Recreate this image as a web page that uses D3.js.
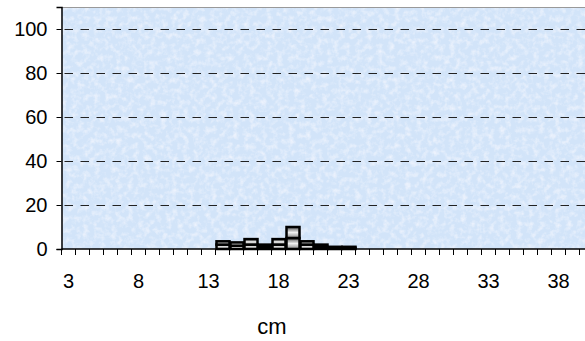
<!DOCTYPE html>
<html><head><meta charset="utf-8">
<script src="https://cdn.jsdelivr.net/npm/d3@7"></script>
<style>body{margin:0;background:#fff;}svg{display:block;font-family:"Liberation Sans",Arial,sans-serif;}</style>
</head><body>
<script>
const categories = d3.range(3, 41);
const tickLabels = [3, 8, 13, 18, 23, 28, 33, 38];
const yTicks = [0, 20, 40, 60, 80, 100];
const barCats = [14, 15, 16, 17, 18, 19, 20, 21, 22, 23];
const seriesA = [2, 1.5, 2, 1, 2, 5, 2, 1, 0.5, 0.5];
const seriesB = [1.5, 1.5, 2.5, 1, 2.5, 5, 1.5, 1, 0.5, 0.5];
const xTitle = "cm";

const W = 585, H = 341;
const mLeft = 61.5, mTop = 7, mBottom = 249;
const svg = d3.select("body").append("svg").attr("width", W).attr("height", H);
const defs = svg.append("defs");
const f = defs.append("filter").attr("id", "tex").attr("x", 0).attr("y", 0).attr("width", 1).attr("height", 1);
f.append("feTurbulence").attr("type", "fractalNoise").attr("baseFrequency", 0.18).attr("numOctaves", 3).attr("seed", 7).attr("result", "n");
f.append("feColorMatrix").attr("in", "n").attr("type", "matrix")
  .attr("values", "0 0 0 0 0.94  0 0 0 0 0.95  0 0 0 0 1  0 0 0 -1.4 0.8").attr("result", "c");
f.append("feComposite").attr("in", "c").attr("in2", "SourceGraphic").attr("operator", "over");
const g1 = defs.append("linearGradient").attr("id", "bg").attr("x1", 0).attr("x2", 0).attr("y1", 0).attr("y2", 1);
g1.append("stop").attr("offset", "0%").attr("stop-color", "#555");
g1.append("stop").attr("offset", "50%").attr("stop-color", "#f0f0f0");
g1.append("stop").attr("offset", "100%").attr("stop-color", "#888");

const x = d3.scaleBand().domain(categories).range([mLeft, mLeft + categories.length * 14]).padding(0);
const y = d3.scaleLinear().domain([0, 110]).range([mBottom, mTop]);

svg.append("rect").attr("x", mLeft).attr("y", mTop).attr("width", W - mLeft).attr("height", mBottom - mTop)
  .attr("fill", "#d2e4f9").attr("filter", "url(#tex)");
svg.append("line").attr("x1", mLeft).attr("x2", W).attr("y1", mTop + 0.5).attr("y2", mTop + 0.5).attr("stroke", "#999");

// gridlines
svg.append("g").selectAll("line").data(yTicks.filter(d => d > 0)).join("line")
  .attr("x1", mLeft + 3).attr("x2", W).attr("y1", d => Math.round(y(d)) + 0.5).attr("y2", d => Math.round(y(d)) + 0.5)
  .attr("stroke", "#222").attr("stroke-dasharray", "8.5,7.5");

// stacked bars
const rows = barCats.map((c, i) => ({cat: c, a: seriesA[i], b: seriesB[i]}));
const stack = d3.stack().keys(["a", "b"])(rows);
svg.append("g").selectAll("g").data(stack).join("g").selectAll("rect").data(d => d).join("rect")
  .attr("x", d => x(d.data.cat) + 1).attr("width", x.bandwidth() - 1)
  .attr("y", d => y(d[1])).attr("height", d => y(d[0]) - y(d[1]))
  .attr("fill", "url(#bg)").attr("stroke", "#000").attr("stroke-width", 2.5);

// y axis
const ya = svg.append("g").attr("transform", `translate(${mLeft},0)`)
  .call(d3.axisLeft(y).tickValues(yTicks).tickSize(5).tickPadding(9));
ya.select(".domain").attr("stroke", "#000").attr("stroke-width", 1.5);
ya.selectAll("text").attr("font-size", 20).attr("fill", "#000").attr("font-family", "Liberation Sans, Arial, sans-serif");

// x axis
const xa = svg.append("g").attr("transform", `translate(0,${mBottom})`);
xa.append("line").attr("x1", mLeft).attr("x2", W).attr("y1", 0).attr("y2", 0).attr("stroke", "#000").attr("stroke-width", 1.5);
xa.selectAll("line.t").data(categories.concat([41])).join("line").attr("class", "t")
  .attr("x1", d => d === 41 ? x(40) + 14 : x(d)).attr("x2", d => d === 41 ? x(40) + 14 : x(d))
  .attr("y1", 0).attr("y2", 6).attr("stroke", "#000");
xa.selectAll("text").data(tickLabels).join("text")
  .attr("x", d => x(d) + x.bandwidth() / 2).attr("y", 39).attr("text-anchor", "middle")
  .attr("font-size", 20).text(d => d);

svg.append("text").attr("x", 272).attr("y", 334).attr("text-anchor", "middle").attr("font-size", 22).text(xTitle);
</script>
</body></html>
